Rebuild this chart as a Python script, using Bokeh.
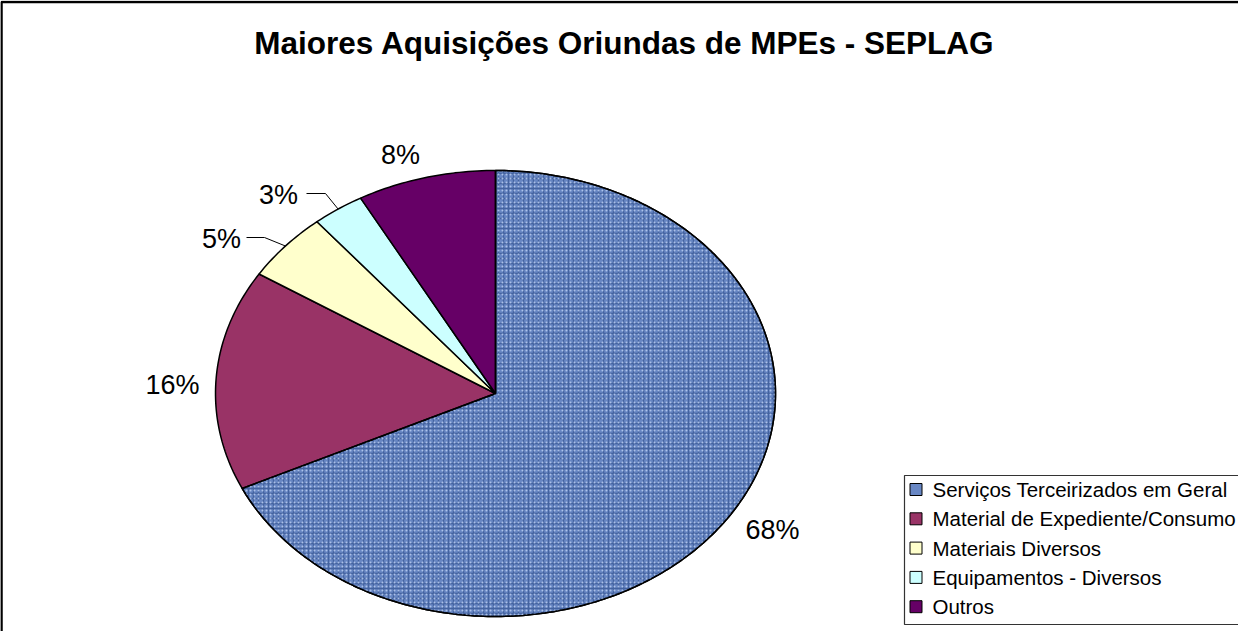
import numpy as np
from bokeh.plotting import figure
from bokeh.models import Range1d, ColumnDataSource
from bokeh.core.properties import value
from bokeh.embed import file_html
from bokeh.resources import INLINE

# ---------------- data ----------------
title = "Maiores Aquisições Oriundas de MPEs - SEPLAG"
categories = ["Serviços Terceirizados em Geral", "Material de Expediente/Consumo",
              "Materiais Diversos", "Equipamentos - Diversos", "Outros"]
values = [68, 16, 5, 3, 8]
labels = ["68%", "16%", "5%", "3%", "8%"]
colors = ["#6887C4", "#993366", "#FFFFCC", "#CCFFFF", "#660066"]

# ---------------- layout ----------------
W, H = 1238, 631
CX, CY, RX, RY = 495, 393, 280, 223
FONT = value("Liberation Sans")
label_pos = [(772, 529), (172, 384), (221, 238), (278, 194), (400, 154)]
leader = [None, None, (246, 264), (306, 325), None]  # (line start x, elbow x)

p = figure(width=W, height=H, x_range=Range1d(0, W), y_range=Range1d(H, 0),
           x_axis_type=None, y_axis_type=None, output_backend="svg",
           toolbar_location=None, min_border=0)
p.grid.visible = False
p.outline_line_color = None
p.background_fill_color = "white"
p.border_fill_color = "white"

# frame (left and top edges visible in the reference)
p.line([1, 1, W], [H, 1.5, 1.5], line_color="black", line_width=2.5)

# title
p.text([624], [42], text=[title], text_font=FONT, text_font_style="bold",
       text_font_size="31.5px", text_align="center", text_baseline="middle",
       text_color="black")

# pie slices (clockwise from 12 o'clock), stretched into an ellipse
total = float(sum(values))
cum = np.concatenate([[0], np.cumsum(values)]) / total
xs, ys, mids = [], [], []
for i in range(len(values)):
    t = np.linspace(cum[i], cum[i + 1], max(4, int(values[i] * 4)))
    ax = CX + RX * np.sin(2 * np.pi * t)
    ay = CY - RY * np.cos(2 * np.pi * t)
    xs.append([CX] + list(ax))
    ys.append([CY] + list(ay))
    mids.append((cum[i] + cum[i + 1]) / 2)

src = ColumnDataSource(dict(xs=xs, ys=ys, color=colors))
p.patches("xs", "ys", source=src, fill_color="color", line_color="black", line_width=1.5)

# denim-like texture on first slice
p.patches([xs[0]], [ys[0]], fill_alpha=0, line_color=None,
          hatch_pattern="cross", hatch_scale=5, hatch_color="#264684",
          hatch_weight=1.4, hatch_alpha=0.55)
p.patches([xs[0]], [ys[0]], fill_alpha=0, line_color=None,
          hatch_pattern="dot", hatch_scale=4, hatch_color="#BFD2F4",
          hatch_weight=1, hatch_alpha=0.8)
p.patches([xs[0]], [ys[0]], fill_alpha=0, line_color="black", line_width=1.5)

# leader lines
for i, ld in enumerate(leader):
    if ld is None:
        continue
    m = mids[i]
    ex = CX + RX * np.sin(2 * np.pi * m)
    ey = CY - RY * np.cos(2 * np.pi * m)
    ly = label_pos[i][1] - 1
    p.line([ld[0], ld[1], ex], [ly, ly, ey], line_color="black", line_width=1)

# percentage labels
p.text([q[0] for q in label_pos], [q[1] for q in label_pos], text=labels,
       text_font=FONT, text_font_size="27px", text_align="center",
       text_baseline="middle", text_color="black")

# legend (drawn manually)
LX, LY0, LSTEP = 904, 475, 29.3
p.quad(left=[LX], right=[W + 5], top=[LY0], bottom=[LY0 + 149],
       fill_color="white", line_color="#333333", line_width=1.2)
rows_y = [LY0 + 14 + LSTEP * i for i in range(len(categories))]
p.rect([915.5] * len(categories), rows_y, width=12, height=12,
       fill_color=colors, line_color="black", line_width=1)
p.text([932] * len(categories), rows_y, text=categories, text_font=FONT,
       text_font_size="20.5px", text_align="left", text_baseline="middle",
       text_color="black")

open("out.html", "w").write(file_html(p, INLINE))
